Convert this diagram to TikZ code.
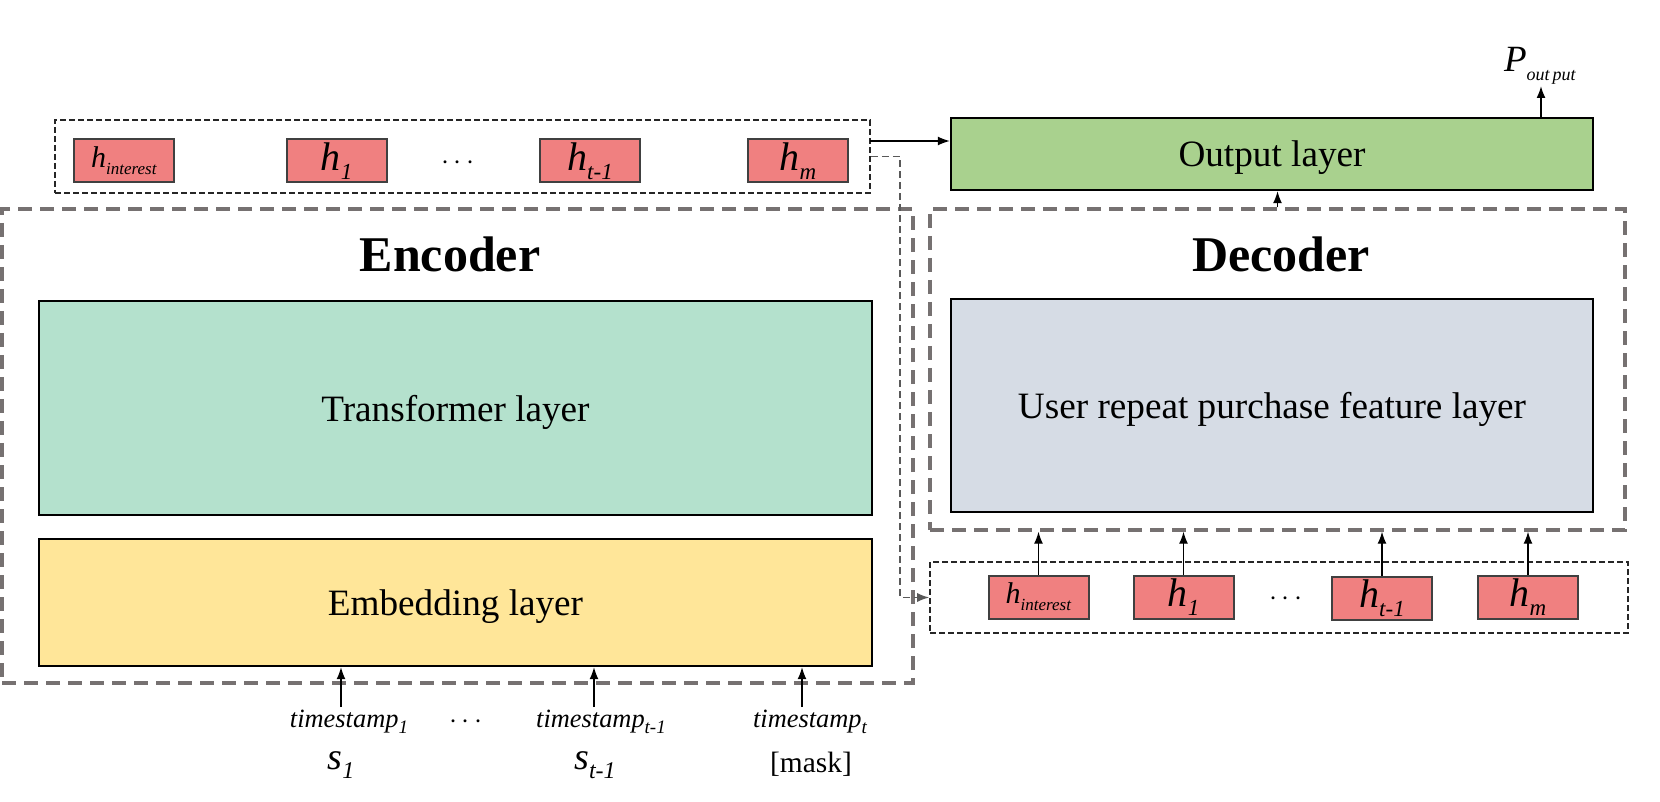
\documentclass[tikz,border=0pt]{standalone}
\usepackage{fontspec}
\setmainfont{Liberation Serif}
\usetikzlibrary{arrows.meta}
\definecolor{pinkc}{HTML}{F08080}
\definecolor{pinkborder}{HTML}{404040}
\definecolor{outg}{HTML}{A9D18E}
\definecolor{transg}{HTML}{B4E1CD}
\definecolor{embY}{HTML}{FFE699}
\definecolor{userB}{HTML}{D6DCE5}
\definecolor{dashg}{HTML}{767171}
\newcommand\lsub[2]{\raisebox{-0.5ex}{\fontsize{#1}{#1}\selectfont #2}}
\begin{document}
\begin{tikzpicture}[x=0.5pt,y=-0.5pt,
 layerbox/.style={draw=black, line width=1.2pt, inner sep=0pt, text depth=0pt, font=\fontsize{18.6}{22}\selectfont},
 hbox/.style={draw=pinkborder, fill=pinkc, line width=1pt, minimum width=50pt, minimum height=21.5pt, inner sep=0pt, font=\fontsize{20}{22}\selectfont},
 gdash/.style={draw=dashg, line width=1.7pt, dash pattern=on 7pt off 4pt, inner sep=0pt},
 bdash/.style={draw=black!85, line width=0.8pt, dash pattern=on 3pt off 1.5pt, inner sep=0pt},
 arr/.style={-{Latex[length=6pt,width=4.5pt]}, line width=0.65pt},
 titletext/.style={font=\fontsize{25}{30}\selectfont\bfseries},
 dotstext/.style={font=\fontsize{14}{16}\selectfont},
 tstext/.style={font=\fontsize{13.2}{16}\selectfont\itshape},
 stext/.style={font=\fontsize{19}{22}\selectfont\itshape},
 ]
\useasboundingbox (0,0) rectangle (1660,802);

% top encoder output box
\node[bdash, minimum width=407.5pt, minimum height=36.5pt] (tbox) at (462.5,156.5) {};
\node[hbox] (th0) at (124,161) {\fontsize{15}{18}\selectfont\textit{h}\lsub{8.5}{\textit{interest}}};
\node[hbox] (th1) at (336.5,161) {\textit{h}\lsub{11.5}{\textit{1}}};
\node[dotstext] (tdots) at (458,163.5) {$\cdots$};
\node[hbox] (th2) at (590,161) {\textit{h}\lsub{11.5}{\textit{t-1}}};
\node[hbox] (th3) at (798,161) {\textit{h}\lsub{11.5}{\textit{m}}};

% output layer
\node[layerbox, fill=outg, minimum width=321pt, minimum height=36pt] (out) at (1272,154) {Output layer};
\node[font=\fontsize{18.5}{20}\selectfont] (pout) at (1540,66) {\textit{P}\lsub{9}{\textit{out\,put}}};
\coordinate (pbase) at (1541,118);
\draw[arr, line width=0.9pt] (pbase) -- (1541,86) coordinate (ptip);

% encoder
\node[gdash, minimum width=455.5pt, minimum height=237pt] (enc) at (457.5,446) {};
\node[titletext] (enclab) at (450,254) {Encoder};
\node[layerbox, fill=transg, minimum width=416.5pt, minimum height=107pt] (trans) at (455.5,408) {Transformer layer};
\node[layerbox, fill=embY, minimum width=416.5pt, minimum height=63.5pt] (emb) at (455.5,602.5) {Embedding layer};

% decoder
\node[gdash, minimum width=347.5pt, minimum height=160.5pt] (dec) at (1277.5,369.5) {};
\node[titletext] (declab) at (1281,254) {Decoder};
\node[layerbox, fill=userB, minimum width=321pt, minimum height=106.5pt] (user) at (1272,405.5) {User repeat purchase feature layer};

% decoder input box
\node[bdash, minimum width=349pt, minimum height=35.5pt] (dbox) at (1279,597.5) {};
\node[hbox] (bh0) at (1038.5,597) {\fontsize{15}{18}\selectfont\textit{h}\lsub{8.5}{\textit{interest}}};
\node[hbox] (bh1) at (1183.5,597) {\textit{h}\lsub{11.5}{\textit{1}}};
\node[dotstext] (bdots) at (1286,599) {$\cdots$};
\node[hbox] (bh2) at (1382,598) {\textit{h}\lsub{11.5}{\textit{t-1}}};
\node[hbox] (bh3) at (1528,597) {\textit{h}\lsub{11.5}{\textit{m}}};

% connectors top
\coordinate (c1) at (870,141);
\draw[arr] (c1) -- (c1 -| out.west);
\draw[arr, draw=black!65, dash pattern=on 3.5pt off 2pt] (tbox.east) -- (900,156.5) |- (dbox.west);
\draw[arr] (dec.north) -- (dec.north |- out.south);
\foreach \n in {bh0,bh1,bh2,bh3}{
  \draw[arr] (\n.north) -- (\n.north |- dec.south);
}

% bottom inputs
\node[tstext] (ts1) at (349,722) {timestamp\lsub{9.5}{\textit{1}}};
\node[dotstext] (sdots) at (466,722.5) {$\cdots$};
\node[tstext] (ts2) at (601,722) {timestamp\lsub{9.5}{\textit{t-1}}};
\node[tstext] (ts3) at (810,722) {timestamp\lsub{9.5}{\textit{t}}};
\node[stext] (s1) at (341,765) {s\lsub{12}{\textit{1}}};
\node[stext] (s2) at (595,765) {s\lsub{12}{\textit{t-1}}};
\node[font=\fontsize{14.7}{17}\selectfont] (mask) at (811,764) {[mask]};
\coordinate (b1) at (341,707);
\coordinate (b2) at (594,707);
\coordinate (b3) at (802,707);
\foreach \b in {b1,b2,b3}{
  \draw[arr] (\b) -- (\b |- emb.south);
}
\end{tikzpicture}
\end{document}
